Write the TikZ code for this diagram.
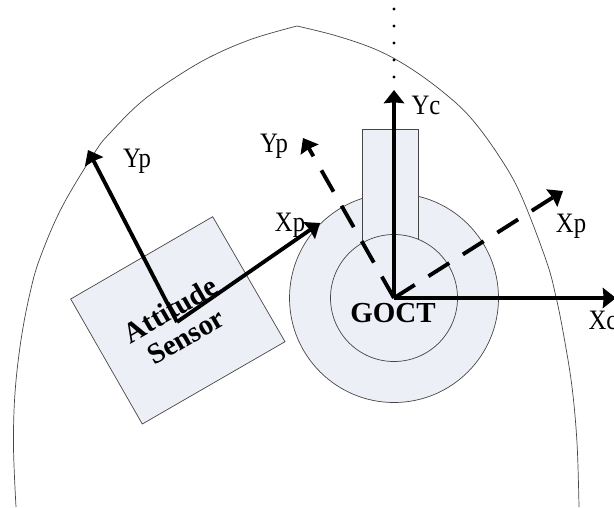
\documentclass[tikz,border=0pt]{standalone}
\usepackage{fontspec}
\setmainfont{Liberation Serif}
\usepackage{xcolor}
\usetikzlibrary{arrows.meta, positioning}
\definecolor{partfill}{RGB}{236,239,245}
\definecolor{partline}{RGB}{70,70,70}
\tikzset{
  part/.style={draw=partline, fill=partfill, line width=0.4pt},
  axis/.style={line width=2.2pt, -{Stealth[length=7.5pt,width=11.5pt,inset=0.5pt]}},
  axisdash/.style={axis, dash pattern=on 14pt off 9.2pt},
  axislabel/.style={font=\fontsize{16}{18}\selectfont, inner sep=0pt, xscale=0.88, transform shape},
  partlabel/.style={font=\fontsize{16.5}{17.5}\selectfont\bfseries, inner sep=0pt, align=center}
}

\begin{document}
\begin{tikzpicture}[x=0.02cm, y=-0.02cm]
\useasboundingbox (0,0) rectangle (614,507);

% Housing outline
\draw[partline, line width=0.4pt] plot[smooth, tension=0.6] coordinates {(16,507) (13.5,447) (15,393) (21,340) (30,293) (40,258) (62,207) (95,152) (110,133) (140,103) (173,79) (210,57) (252,39) (297,26)};
\draw[partline, line width=0.4pt] plot[smooth, tension=0.6] coordinates {(297,26) (337,36) (377,50) (410,68) (443,92) (470,117) (497,153) (520,193) (546,260) (556,297) (564,337) (572,387) (577,443) (579,507)};

% Gyro body
\coordinate (goct) at (394,298);
\draw[part] (goct) circle (104.5);
\draw[part] (362,129) rectangle (418.5,250);
\draw[part] (goct) circle (63.5);
\node[partlabel] (goctlabel) at (393,313) {GOCT};

% Attitude sensor
\coordinate (sensora) at (70.7,299);
\coordinate (sensorb) at (212.7,216.7);
\coordinate (sensorc) at (285,341.7);
\coordinate (sensord) at (142.3,424);
\draw[part] (sensora) -- (sensorb) -- (sensorc) -- (sensord) -- cycle;
\node[partlabel, rotate=30] (sensorlabel) at (178,323) {Attitude\\Sensor};

% Sensor axes
\coordinate (sensor0) at (177,322);
\coordinate (sensorx) at (320,223);
\coordinate (sensory) at (88,150);
\draw[axis] (sensor0) -- (sensorx);
\draw[axis] (sensor0) -- (sensory);
\node[axislabel] (xp1) at (290,225) {Xp};
\node[axislabel] (yp1) at (137,161) {Yp};

% Gyro axes
\coordinate (xctip) at (616,298);
\coordinate (yctip) at (394,90);
\draw[axis] (goct) -- (xctip);
\draw[axis] (goct) -- (yctip);
\node[axislabel] (xc) at (603,320) {Xc};
\node[axislabel] (yc) at (426,105) {Yc};

% Projected axes
\coordinate (xptip) at (563,191);
\coordinate (yptip) at (303,138);
\draw[axisdash] (goct) -- (xptip);
\draw[axisdash] (goct) -- (yptip);
\node[axislabel] (xp2) at (571,226) {Xp};
\node[axislabel] (yp2) at (274,146) {Yp};

% Dots above Yc
\foreach \y in {9,26,43,60,77}
  \fill (394,\y) circle (1.6);
\end{tikzpicture}
\end{document}
